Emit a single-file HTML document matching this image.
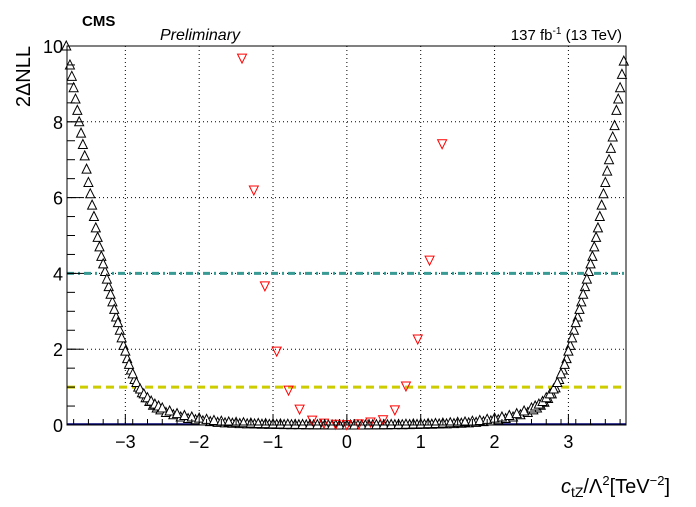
<!DOCTYPE html>
<html><head><meta charset="utf-8"><style>
body{margin:0;background:#fff;}
svg text{font-family:"Liberation Sans",sans-serif;}
</style></head><body>
<svg id="chart" width="696" height="502" xmlns="http://www.w3.org/2000/svg">
<rect width="696" height="502" fill="#fff"/>
<g id="grid"></g>
<g id="refs"></g>
<g id="scan"></g>
<g id="fixed"></g>
<rect x="67" y="46" width="559" height="379" fill="none" stroke="#000" stroke-width="1"/>
<g id="axes"></g>
<text x="82" y="26" font-size="15" font-weight="bold">CMS</text>
<text x="160" y="40" font-size="16" font-style="italic">Preliminary</text>
<text x="622" y="40" font-size="15" text-anchor="end">137 fb<tspan dy="-6" font-size="10">-1</tspan><tspan dy="6"> (13 TeV)</tspan></text>
<text transform="translate(30,46) rotate(-90)" font-size="20" text-anchor="end">2ΔNLL</text>
<text x="670" y="493" font-size="20" text-anchor="end"><tspan font-style="italic">c</tspan><tspan font-size="14" dy="4">tZ</tspan><tspan dy="-4">/Λ</tspan><tspan font-size="13" dy="-8">2</tspan><tspan dy="8">[TeV</tspan><tspan font-size="13" dy="-8">−2</tspan><tspan dy="8">]</tspan></text>
</svg>
<script>
const scanX=[-3.8,-3.75,-3.7,-3.65,-3.6,-3.55,-3.5,-3.45,-3.4,-3.35,-3.3,-3.25,-3.2,-3.15,-3.1,-3.05,-3.0,-2.95,-2.9,-2.85,-2.8,-2.75,-2.7,-2.65,-2.6,-2.55,-2.5,-2.4,-2.3,-2.2,-2.1,-2.0,-1.9,-1.8,-1.7,-1.6,-1.5,-1.4,-1.3,-1.2,-1.1,-1.0,-0.9,-0.8,-0.7,-0.6,-0.5,-0.4,-0.3,-0.2,-0.1,0.0,0.1,0.2,0.3,0.4,0.5,0.6,0.7,0.8,0.9,1.0,1.1,1.2,1.3,1.4,1.5,1.6,1.7,1.8,1.9,2.0,2.1,2.2,2.3,2.4,2.5,2.55,2.6,2.65,2.7,2.75,2.8,2.85,2.9,2.95,3.0,3.05,3.1,3.15,3.2,3.25,3.3,3.35,3.4,3.45,3.5,3.55,3.6,3.65,3.7,3.75];
const scanY=[10.0,9.5,8.9,8.3,7.7,7.1,6.4,5.8,5.2,4.7,4.25,3.85,3.45,3.05,2.7,2.3,1.95,1.6,1.35,1.12,0.95,0.82,0.72,0.63,0.55,0.5,0.45,0.37,0.3,0.25,0.21,0.18,0.15,0.12,0.1,0.08,0.07,0.06,0.05,0.04,0.035,0.03,0.025,0.02,0.015,0.012,0.01,0.008,0.005,0.0,0.0,0.0,0.0,0.0,0.005,0.008,0.01,0.012,0.015,0.02,0.025,0.03,0.035,0.04,0.05,0.06,0.07,0.08,0.1,0.12,0.15,0.18,0.21,0.25,0.3,0.37,0.45,0.5,0.55,0.62,0.72,0.82,0.95,1.12,1.35,1.6,1.95,2.3,2.7,3.05,3.45,3.85,4.25,4.7,5.2,5.8,6.4,7.0,7.6,8.3,8.9,9.6];
const scan2X=[-3.725,-3.675,-3.625,-3.575,-3.525,-3.475,-3.425,-3.375,-3.325,-3.275,-3.225,-3.175,-3.125,-3.075,-3.025,-2.975,-2.925,-2.875,-2.825,-2.775,-2.725,-2.675,-2.625,-2.575,-2.525,-2.45,-2.35,-2.25,-2.15,-2.05,-1.95,-1.85,-1.75,-1.65,-1.55,-1.45,-1.35,-1.25,-1.15,-1.05,-0.95,-0.85,-0.75,-0.65,-0.55,-0.45,-0.35,-0.25,-0.15,-0.05,0.05,0.15,0.25,0.35,0.45,0.55,0.65,0.75,0.85,0.95,1.05,1.15,1.25,1.35,1.45,1.55,1.65,1.75,1.85,1.95,2.05,2.15,2.25,2.35,2.45,2.525,2.575,2.625,2.675,2.725,2.775,2.825,2.875,2.925,2.975,3.025,3.075,3.125,3.175,3.225,3.275,3.325,3.375,3.425,3.475,3.525,3.575,3.625,3.675,3.725];
const scan2Y=[9.2,8.6,8.0,7.4,6.75,6.1,5.5,4.95,4.45,4.05,3.65,3.25,2.85,2.5,2.1,1.75,1.45,1.2,1.0,0.85,0.72,0.62,0.52,0.45,0.4,0.33,0.27,0.21,0.17,0.14,0.11,0.09,0.07,0.055,0.045,0.035,0.03,0.025,0.02,0.015,0.012,0.01,0.008,0.006,0.004,0.003,0.002,0.0,0.0,0.0,0.0,0.0,0.0,0.002,0.003,0.004,0.006,0.008,0.01,0.012,0.015,0.02,0.025,0.03,0.035,0.045,0.055,0.07,0.09,0.11,0.14,0.17,0.21,0.27,0.33,0.4,0.45,0.52,0.6,0.7,0.82,0.98,1.2,1.45,1.75,2.1,2.5,2.85,3.25,3.65,4.05,4.45,4.95,5.5,6.1,6.7,7.3,7.9,8.6,9.25];
const fixedX=[-1.42,-1.26,-1.11,-0.95,-0.79,-0.64,-0.47,-0.31,-0.15,0.0,0.16,0.32,0.49,0.65,0.8,0.96,1.12,1.29];
const fixedY=[9.68,6.2,3.67,1.95,0.92,0.42,0.13,0.05,0.02,0.01,0.03,0.08,0.14,0.4,1.03,2.27,4.35,7.42];
const xTicks=[-3,-2,-1,0,1,2,3];
const yTicks=[0,2,4,6,8,10];
const refLevels=[1,4];
const X0=67,X1=626,Y0=425,Y1=46,XMIN=-3.79,XMAX=3.78,YMIN=0,YMAX=10;
const sx=v=>X0+(v-XMIN)/(XMAX-XMIN)*(X1-X0);
const sy=v=>Y0-(v-YMIN)/(YMAX-YMIN)*(Y0-Y1);
const NS="http://www.w3.org/2000/svg";
function mk(tag,attrs,parent){const e=document.createElementNS(NS,tag);for(const k in attrs)e.setAttribute(k,attrs[k]);parent.appendChild(e);return e;}
const grid=document.getElementById('grid'),axes=document.getElementById('axes'),refs=document.getElementById('refs'),scan=document.getElementById('scan'),fixed=document.getElementById('fixed');
xTicks.forEach(t=>{
  const g=mk('line',{x1:sx(t),x2:sx(t),y1:Y1,y2:Y0,stroke:'#000','stroke-dasharray':'1,3','stroke-width':1},grid);
  
  
  const tk=mk('line',{x1:sx(t),x2:sx(t),y1:Y0,y2:Y0-11,stroke:'#000'},axes);
  
  
  const lb=mk('text',{x:sx(t),y:Y0+23,'font-size':18,'text-anchor':'middle'},axes);
  lb.textContent=t<0?'−'+Math.abs(t):String(t);
  
  
});
for(let v=-3.7;v<=3.75;v+=0.2){const tk=mk('line',{x1:sx(v),x2:sx(v),y1:Y0,y2:Y0-6,stroke:'#000'},axes);
  
  }
yTicks.forEach(t=>{
  if(t>0&&t<10){const g=mk('line',{x1:X0,x2:X1,y1:sy(t),y2:sy(t),stroke:'#000','stroke-dasharray':'1,3'},grid);
  
  }
  const tk=mk('line',{x1:X0,x2:X0+16,y1:sy(t),y2:sy(t),stroke:'#000'},axes);
  
  
  const lb=mk('text',{x:X0-4,y:sy(t)+7,'font-size':18,'text-anchor':'end'},axes);
  lb.textContent=String(t);
  
  
});
for(let v=0.5;v<10;v+=0.5){const tk=mk('line',{x1:X0,x2:X0+8,y1:sy(v),y2:sy(v),stroke:'#000'},axes);
  
  }
const zl=mk('line',{x1:X0,x2:X1,y1:sy(0)-1,y2:sy(0)-1,stroke:'#00006e','stroke-width':1.5},refs);


refLevels.forEach(l=>{
  const ln=mk('line',{x1:X0,x2:X1,y1:sy(l),y2:sy(l),stroke:l===4?'#3a9a94':'#cccc00','stroke-width':3,'stroke-dasharray':l===4?'7,4,2,4':'8,5'},refs);
  
  
});
function drawUp(xs,ys){
  xs.forEach((x,i)=>{
    const cx=sx(x),cy=sy(ys[i]);
    const p=mk('polygon',{points:`${cx-4.5},${cy+4} ${cx+4.5},${cy+4} ${cx},${cy-5}`,fill:'#fff',stroke:'#000','stroke-width':1},scan);
    
    
  });
}
drawUp(scan2X,scan2Y);
drawUp(scanX,scanY);
fixedX.forEach((x,i)=>{
  const cx=sx(x),cy=sy(fixedY[i]);
  const p=mk('polygon',{points:`${cx-4.5},${cy-4} ${cx+4.5},${cy-4} ${cx},${cy+5}`,fill:'none',stroke:'#f00','stroke-width':1},fixed);
  
  
});
</script>
</body></html>
